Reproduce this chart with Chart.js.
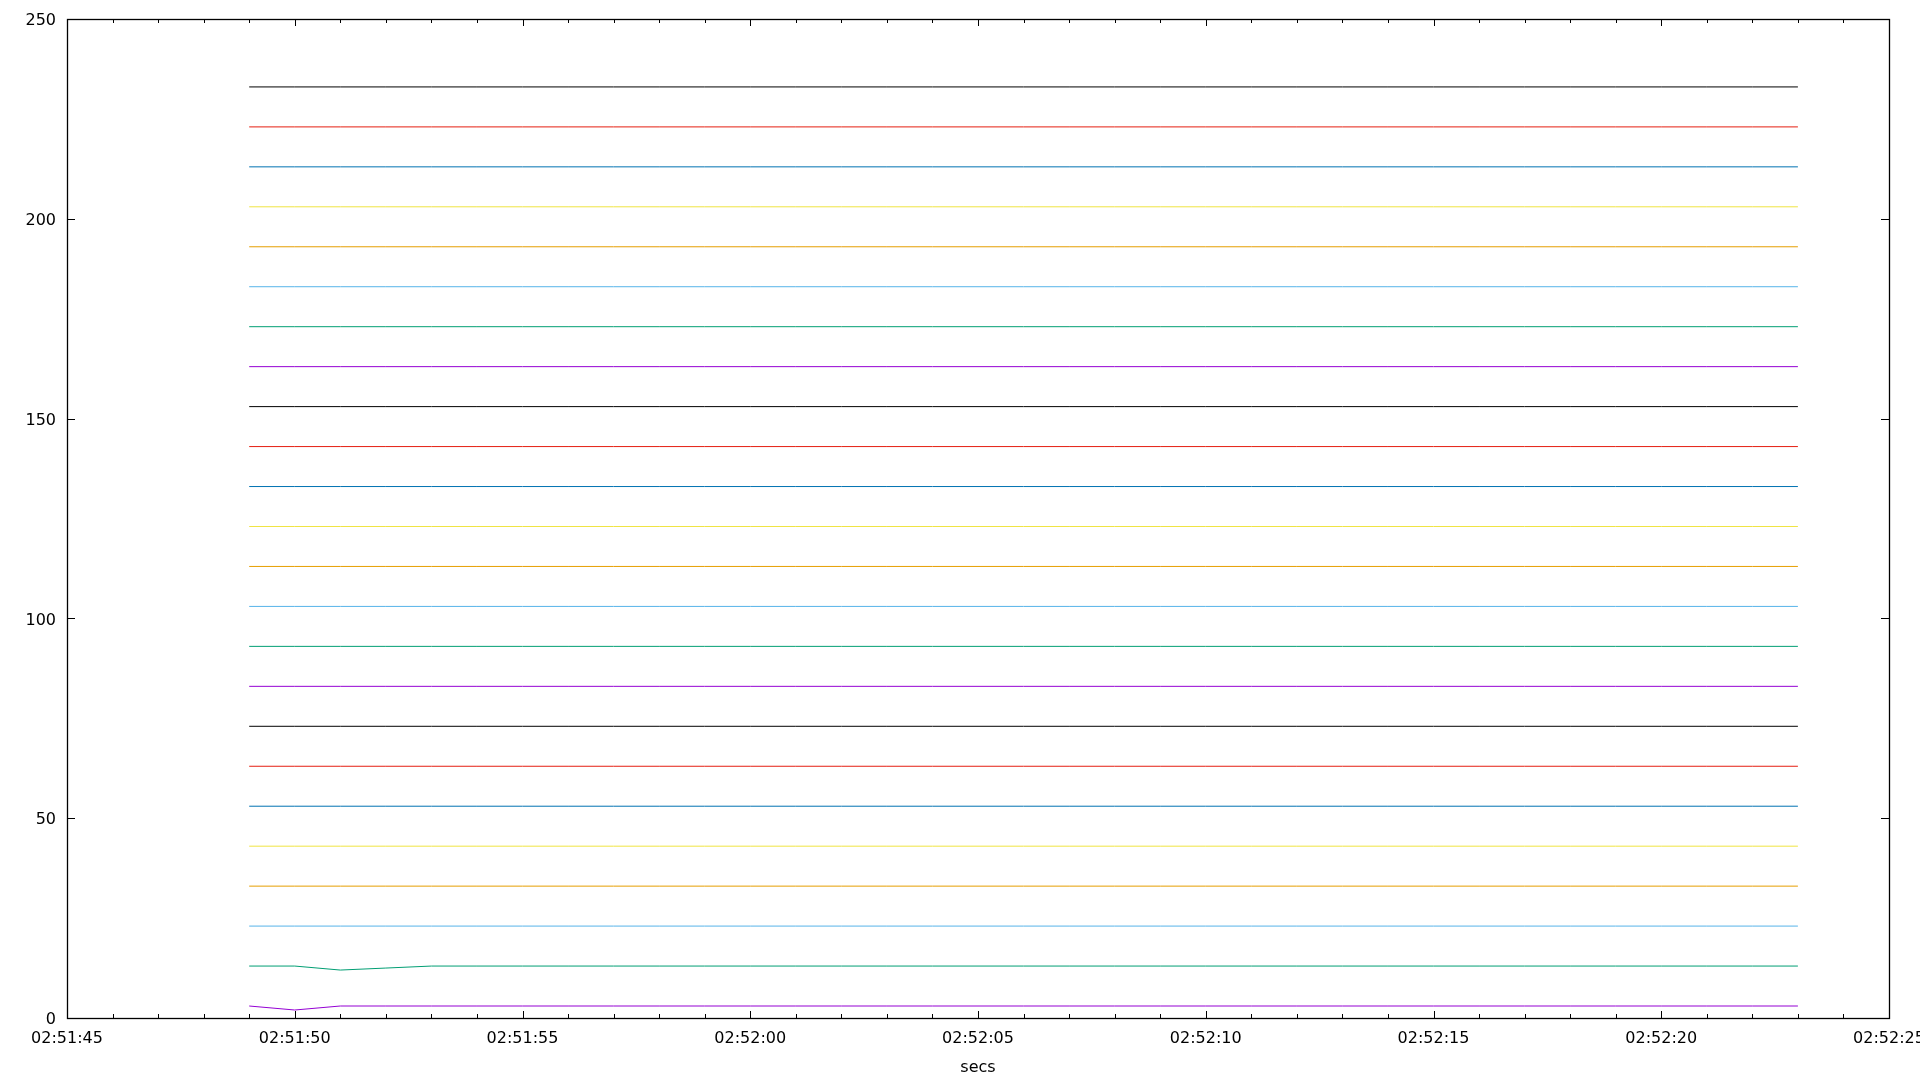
<!DOCTYPE html>
<html>
<head>
<meta charset="utf-8">
<script src="https://cdn.jsdelivr.net/npm/chart.js@4/dist/chart.umd.min.js"></script>
<style>
html,body{margin:0;padding:0;background:#fff;}
#wrap{width:1920px;height:1080px;position:relative;}
</style>
</head>
<body>
<div id="wrap"><canvas id="c"></canvas></div>
<script>
// ---- data ----
const axisStart = "02:51:45";
const axisEnd = "02:52:25";
const times = [
  "02:51:49","02:51:50","02:51:51","02:51:52","02:51:53",
  "02:51:54","02:51:55","02:51:56","02:51:57","02:51:58",
  "02:51:59","02:52:00","02:52:01","02:52:02","02:52:03",
  "02:52:04","02:52:05","02:52:06","02:52:07","02:52:08",
  "02:52:09","02:52:10","02:52:11","02:52:12","02:52:13",
  "02:52:14","02:52:15","02:52:16","02:52:17","02:52:18",
  "02:52:19","02:52:20","02:52:21","02:52:22","02:52:23"
];
const yTicks = [0, 50, 100, 150, 200, 250];
const xTickStep = 5;

const s01 = [3,2,3,3,3, 3,3,3,3,3, 3,3,3,3,3, 3,3,3,3,3, 3,3,3,3,3, 3,3,3,3,3, 3,3,3,3,3];
const s02 = [13,13,12,12.5,13, 13,13,13,13,13, 13,13,13,13,13, 13,13,13,13,13, 13,13,13,13,13, 13,13,13,13,13, 13,13,13,13,13];
const s03 = [23,23,23,23,23, 23,23,23,23,23, 23,23,23,23,23, 23,23,23,23,23, 23,23,23,23,23, 23,23,23,23,23, 23,23,23,23,23];
const s04 = [33,33,33,33,33, 33,33,33,33,33, 33,33,33,33,33, 33,33,33,33,33, 33,33,33,33,33, 33,33,33,33,33, 33,33,33,33,33];
const s05 = [43,43,43,43,43, 43,43,43,43,43, 43,43,43,43,43, 43,43,43,43,43, 43,43,43,43,43, 43,43,43,43,43, 43,43,43,43,43];
const s06 = [53,53,53,53,53, 53,53,53,53,53, 53,53,53,53,53, 53,53,53,53,53, 53,53,53,53,53, 53,53,53,53,53, 53,53,53,53,53];
const s07 = [63,63,63,63,63, 63,63,63,63,63, 63,63,63,63,63, 63,63,63,63,63, 63,63,63,63,63, 63,63,63,63,63, 63,63,63,63,63];
const s08 = [73,73,73,73,73, 73,73,73,73,73, 73,73,73,73,73, 73,73,73,73,73, 73,73,73,73,73, 73,73,73,73,73, 73,73,73,73,73];
const s09 = [83,83,83,83,83, 83,83,83,83,83, 83,83,83,83,83, 83,83,83,83,83, 83,83,83,83,83, 83,83,83,83,83, 83,83,83,83,83];
const s10 = [93,93,93,93,93, 93,93,93,93,93, 93,93,93,93,93, 93,93,93,93,93, 93,93,93,93,93, 93,93,93,93,93, 93,93,93,93,93];
const s11 = [103,103,103,103,103, 103,103,103,103,103, 103,103,103,103,103, 103,103,103,103,103, 103,103,103,103,103, 103,103,103,103,103, 103,103,103,103,103];
const s12 = [113,113,113,113,113, 113,113,113,113,113, 113,113,113,113,113, 113,113,113,113,113, 113,113,113,113,113, 113,113,113,113,113, 113,113,113,113,113];
const s13 = [123,123,123,123,123, 123,123,123,123,123, 123,123,123,123,123, 123,123,123,123,123, 123,123,123,123,123, 123,123,123,123,123, 123,123,123,123,123];
const s14 = [133,133,133,133,133, 133,133,133,133,133, 133,133,133,133,133, 133,133,133,133,133, 133,133,133,133,133, 133,133,133,133,133, 133,133,133,133,133];
const s15 = [143,143,143,143,143, 143,143,143,143,143, 143,143,143,143,143, 143,143,143,143,143, 143,143,143,143,143, 143,143,143,143,143, 143,143,143,143,143];
const s16 = [153,153,153,153,153, 153,153,153,153,153, 153,153,153,153,153, 153,153,153,153,153, 153,153,153,153,153, 153,153,153,153,153, 153,153,153,153,153];
const s17 = [163,163,163,163,163, 163,163,163,163,163, 163,163,163,163,163, 163,163,163,163,163, 163,163,163,163,163, 163,163,163,163,163, 163,163,163,163,163];
const s18 = [173,173,173,173,173, 173,173,173,173,173, 173,173,173,173,173, 173,173,173,173,173, 173,173,173,173,173, 173,173,173,173,173, 173,173,173,173,173];
const s19 = [183,183,183,183,183, 183,183,183,183,183, 183,183,183,183,183, 183,183,183,183,183, 183,183,183,183,183, 183,183,183,183,183, 183,183,183,183,183];
const s20 = [193,193,193,193,193, 193,193,193,193,193, 193,193,193,193,193, 193,193,193,193,193, 193,193,193,193,193, 193,193,193,193,193, 193,193,193,193,193];
const s21 = [203,203,203,203,203, 203,203,203,203,203, 203,203,203,203,203, 203,203,203,203,203, 203,203,203,203,203, 203,203,203,203,203, 203,203,203,203,203];
const s22 = [213,213,213,213,213, 213,213,213,213,213, 213,213,213,213,213, 213,213,213,213,213, 213,213,213,213,213, 213,213,213,213,213, 213,213,213,213,213];
const s23 = [223,223,223,223,223, 223,223,223,223,223, 223,223,223,223,223, 223,223,223,223,223, 223,223,223,223,223, 223,223,223,223,223, 223,223,223,223,223];
const s24 = [233,233,233,233,233, 233,233,233,233,233, 233,233,233,233,233, 233,233,233,233,233, 233,233,233,233,233, 233,233,233,233,233, 233,233,233,233,233];

const seriesList = [s01,s02,s03,s04,s05,s06,s07,s08,s09,s10,s11,s12,s13,s14,s15,s16,s17,s18,s19,s20,s21,s22,s23,s24];
const palette = ["#9400d3","#009e73","#56b4e9","#e69f00","#f0e442","#0072b2","#e51e10","#000000"];

// ---- helpers ----
function toSec(t){ const p = t.split(":").map(Number); return p[0]*3600 + p[1]*60 + p[2]; }
function fmt(sec){
  const h = Math.floor(sec/3600), m = Math.floor((sec%3600)/60), s = Math.round(sec%60);
  const z = n => String(n).padStart(2,"0");
  return z(h)+":"+z(m)+":"+z(s);
}
const x0 = toSec(axisStart), x1 = toSec(axisEnd);

const datasets = seriesList.map((vals, i) => ({
  label: "series " + (i+1),
  data: vals.map((v, k) => ({x: toSec(times[k]), y: v})),
  borderColor: palette[i % palette.length],
  backgroundColor: palette[i % palette.length],
  borderWidth: 1,
  pointRadius: 0,
  tension: 0,
  fill: false
}));

const framePlugin = {
  id: "frame",
  afterDatasetsDraw(chart){
    const {ctx, chartArea: a, scales} = chart;
    const xs = scales.x, ys = scales.y;
    ctx.save();
    ctx.strokeStyle = "#000";
    ctx.lineWidth = 1;
    ctx.beginPath();
    for (let s = x0; s <= x1; s += 1){
      const px = Math.round(xs.getPixelForValue(s)) + 0.5;
      const len = ((s - x0) % xTickStep === 0) ? 7 : 4;
      ctx.moveTo(px, a.bottom); ctx.lineTo(px, a.bottom - len);
      ctx.moveTo(px, a.top); ctx.lineTo(px, a.top + len);
    }
    yTicks.forEach(v => {
      const py = Math.round(ys.getPixelForValue(v)) + 0.5;
      ctx.moveTo(a.left, py); ctx.lineTo(a.left + 8, py);
      ctx.moveTo(a.right, py); ctx.lineTo(a.right - 8, py);
    });
    ctx.stroke();
    ctx.lineWidth = 1.3;
    ctx.strokeRect(Math.round(a.left)+0.5, Math.round(a.top)+0.5, Math.round(a.right - a.left), Math.round(a.bottom - a.top));
    ctx.restore();
  }
};

const font = {family: "'DejaVu Sans', sans-serif", size: 16};

new Chart(document.getElementById("c"), {
  type: "line",
  data: { datasets },
  options: {
    responsive: true,
    maintainAspectRatio: false,
    animation: false,
    events: [],
    layout: { padding: { top: 19, right: 31, bottom: 0, left: 0 } },
    plugins: { legend: { display: false }, tooltip: { enabled: false } },
    scales: {
      x: {
        type: "linear",
        min: x0, max: x1,
        grid: { display: false, drawTicks: false },
        border: { display: false },
        ticks: {
          stepSize: xTickStep, autoSkip: false, maxRotation: 0, padding: 11,
          color: "#000", font,
          callback: v => fmt(v)
        },
        title: { display: true, text: "secs", color: "#000", font, padding: { top: 3, bottom: 3 } },
        afterFit: s => { s.height = 62; s.paddingLeft = 0; s.paddingRight = 0; }
      },
      y: {
        type: "linear",
        min: 0, max: 250,
        grid: { display: false, drawTicks: false },
        border: { display: false },
        ticks: { stepSize: 50, padding: 11, labelOffset: 2, color: "#000", font },
        afterFit: s => { s.width = 67; s.paddingTop = 0; s.paddingBottom = 0; }
      }
    }
  },
  plugins: [framePlugin]
});
</script>
</body>
</html>
